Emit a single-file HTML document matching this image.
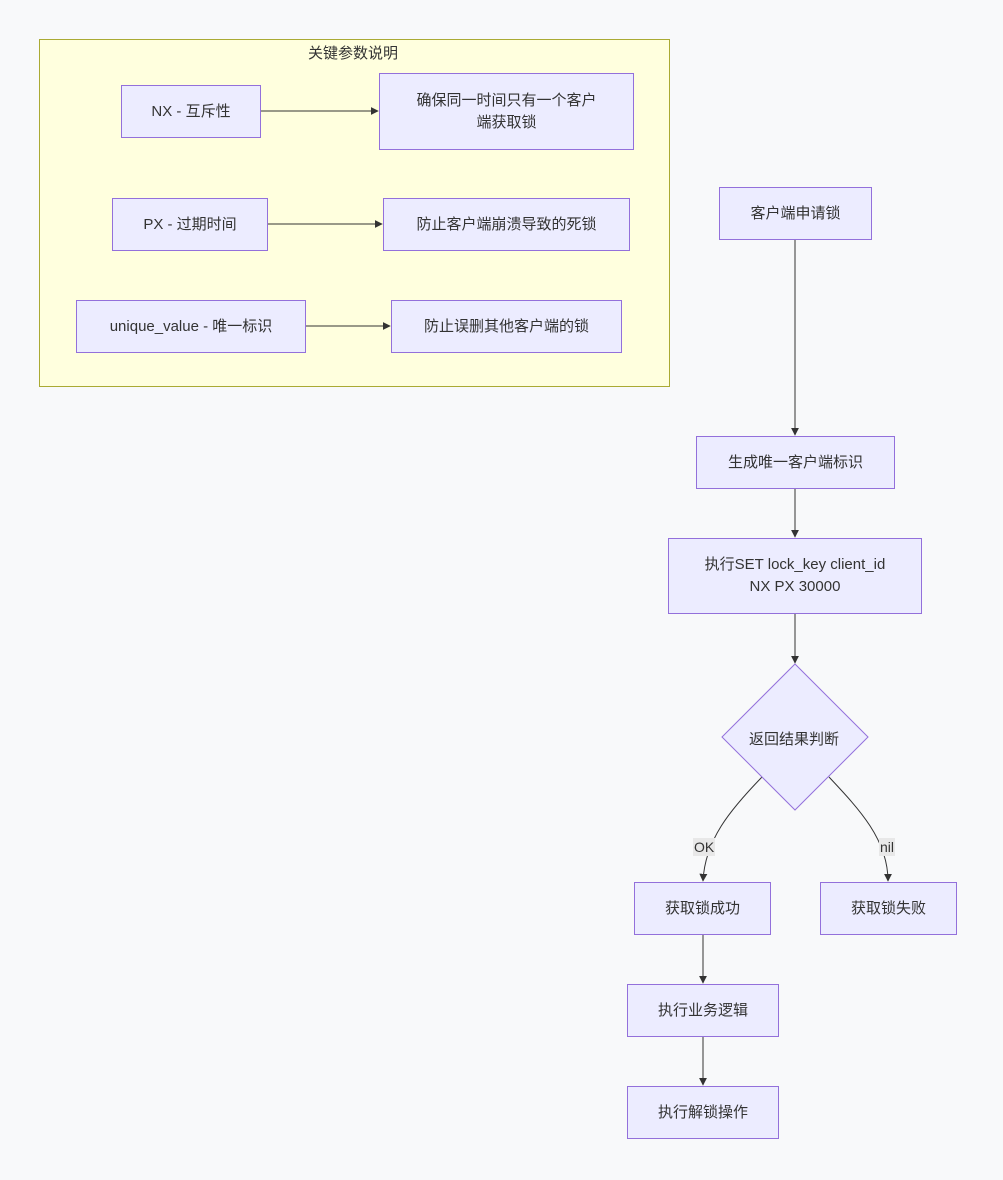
<!DOCTYPE html>
<html><head><meta charset="utf-8"><style>
body{margin:0;width:1003px;height:1180px;background:#f8f9fa;font-family:"Liberation Sans","Noto Sans CJK SC",sans-serif;position:relative;overflow:hidden;color:#333}
.n{position:absolute;box-sizing:border-box;background:#ececff;border:1px solid #9370db;display:flex;align-items:center;justify-content:center;text-align:center;font-size:15px;line-height:22px}
.sg{position:absolute;left:39px;top:39px;width:631px;height:348px;box-sizing:border-box;background:#ffffde;border:1px solid #aaaa33}
.t{position:absolute;font-size:15px}
.lb{position:absolute;background:#e8e8e8;font-size:14px;line-height:18px;padding:0 1px}
</style></head><body>
<div class="sg"></div>
<div class="t" style="left:308px;top:42px">关键参数说明</div>
<svg style="position:absolute;left:0;top:0" width="1003" height="1180">
<defs><marker id="a" viewBox="0 0 10 10" refX="9" refY="5" markerWidth="8" markerHeight="8" orient="auto"><path d="M0,0L10,5L0,10z" fill="#333"/></marker></defs>
<g stroke="#333" stroke-width="1" fill="none">
<path d="M261,111H378" marker-end="url(#a)"/>
<path d="M268,224H382" marker-end="url(#a)"/>
<path d="M306,326H390" marker-end="url(#a)"/>
<path d="M795,240V435" marker-end="url(#a)"/>
<path d="M795,489V537" marker-end="url(#a)"/>
<path d="M795,614V663" marker-end="url(#a)"/>
<path d="M762,777C730,810 705,840 703,881" marker-end="url(#a)"/>
<path d="M829,777C860,810 888,840 888,881" marker-end="url(#a)"/>
<path d="M703,935V983" marker-end="url(#a)"/>
<path d="M703,1037V1085" marker-end="url(#a)"/>
</g>
<polygon points="795,664 868,737 795,810 722,737" fill="#ececff" stroke="#9370db"/>
</svg>
<div class="n" style="left:121px;top:85px;width:140px;height:53px">NX - 互斥性</div>
<div class="n" style="left:379px;top:73px;width:255px;height:77px">确保同一时间只有一个客户<br>端获取锁</div>
<div class="n" style="left:112px;top:198px;width:156px;height:53px">PX - 过期时间</div>
<div class="n" style="left:383px;top:198px;width:247px;height:53px">防止客户端崩溃导致的死锁</div>
<div class="n" style="left:76px;top:300px;width:230px;height:53px">unique_value - 唯一标识</div>
<div class="n" style="left:391px;top:300px;width:231px;height:53px">防止误删其他客户端的锁</div>
<div class="n" style="left:719px;top:187px;width:153px;height:53px">客户端申请锁</div>
<div class="n" style="left:696px;top:436px;width:199px;height:53px">生成唯一客户端标识</div>
<div class="n" style="left:668px;top:538px;width:254px;height:76px">执行SET lock_key client_id<br>NX PX 30000</div>
<div class="t" style="left:749px;top:728px">返回结果判断</div>
<div class="lb" style="left:693px;top:838px">OK</div>
<div class="lb" style="left:879px;top:838px">nil</div>
<div class="n" style="left:634px;top:882px;width:137px;height:53px">获取锁成功</div>
<div class="n" style="left:820px;top:882px;width:137px;height:53px">获取锁失败</div>
<div class="n" style="left:627px;top:984px;width:152px;height:53px">执行业务逻辑</div>
<div class="n" style="left:627px;top:1086px;width:152px;height:53px">执行解锁操作</div>
</body></html>
